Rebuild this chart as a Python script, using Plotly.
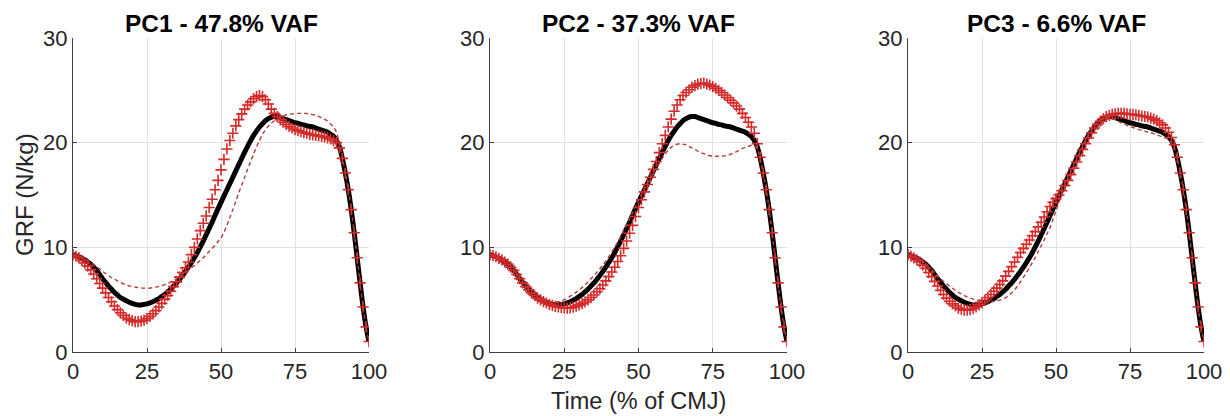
import plotly.graph_objects as go

time_pct = list(range(0, 101))

mean_grf = [9.30, 9.20, 9.10, 8.95, 8.80, 8.60, 8.40, 8.10, 7.80, 7.40,
            7.00, 6.65, 6.30, 6.00, 5.70, 5.45, 5.20, 5.05, 4.90, 4.75,
            4.65, 4.55, 4.50, 4.50, 4.55, 4.60, 4.70, 4.80, 4.95, 5.10,
            5.30, 5.50, 5.75, 6.00, 6.30, 6.60, 6.95, 7.30, 7.70, 8.10,
            8.55, 9.00, 9.50, 10.05, 10.60, 11.20, 11.80, 12.40, 13.05, 13.70,
            14.30, 14.90, 15.50, 16.10, 16.70, 17.30, 17.90, 18.50, 19.10, 19.65,
            20.20, 20.70, 21.10, 21.50, 21.80, 22.10, 22.30, 22.45, 22.50, 22.50,
            22.40, 22.30, 22.20, 22.10, 22.00, 21.90, 21.85, 21.75, 21.70, 21.60,
            21.55, 21.50, 21.40, 21.30, 21.20, 21.10, 21.00, 20.80, 20.60, 20.20,
            19.60, 18.50, 17.10, 15.50, 13.60, 11.40, 9.00, 6.60, 4.30, 2.40,
            1.00]

pc1_plus = [9.30, 9.15, 9.00, 8.75, 8.50, 8.20, 7.85, 7.45, 7.00, 6.55,
            6.10, 5.65, 5.20, 4.80, 4.40, 4.05, 3.75, 3.50, 3.25, 3.10,
            3.00, 2.90, 2.90, 2.95, 3.05, 3.20, 3.40, 3.65, 3.95, 4.30,
            4.65, 5.05, 5.40, 5.80, 6.25, 6.70, 7.15, 7.60, 8.05, 8.60,
            9.30, 10.00, 10.80, 11.60, 12.30, 13.00, 13.80, 14.60, 15.50, 16.40,
            17.40, 18.40, 19.40, 20.20, 20.90, 21.60, 22.20, 22.75, 23.20, 23.60,
            23.90, 24.20, 24.40, 24.50, 24.40, 24.10, 23.70, 23.20, 22.80, 22.50,
            22.20, 21.95, 21.75, 21.55, 21.40, 21.25, 21.15, 21.05, 20.95, 20.90,
            20.80, 20.75, 20.70, 20.65, 20.60, 20.55, 20.45, 20.35, 20.20, 20.00,
            19.50, 18.50, 17.10, 15.50, 13.60, 11.40, 9.00, 6.60, 4.30, 2.40,
            1.00]

pc1_minus = [9.30, 9.23, 9.15, 9.03, 8.90, 8.73, 8.55, 8.35, 8.15, 7.93,
             7.70, 7.50, 7.30, 7.12, 6.95, 6.80, 6.65, 6.52, 6.40, 6.32,
             6.25, 6.20, 6.15, 6.12, 6.10, 6.10, 6.10, 6.15, 6.20, 6.27,
             6.35, 6.45, 6.55, 6.70, 6.85, 7.02, 7.20, 7.40, 7.60, 7.82,
             8.05, 8.27, 8.50, 8.75, 9.00, 9.30, 9.60, 9.90, 10.20, 10.55,
             10.90, 11.45, 12.10, 12.85, 13.60, 14.40, 15.20, 15.95, 16.70, 17.45,
             18.20, 18.90, 19.60, 20.20, 20.80, 21.20, 21.60, 21.85, 22.10, 22.30,
             22.45, 22.55, 22.65, 22.70, 22.75, 22.78, 22.80, 22.80, 22.80, 22.78,
             22.75, 22.68, 22.60, 22.50, 22.40, 22.25, 22.05, 21.80, 21.50, 21.00,
             20.00, 18.60, 17.10, 15.50, 13.60, 11.40, 9.00, 6.60, 4.30, 2.40,
             1.00]

pc2_plus = [9.30, 9.20, 9.10, 8.95, 8.80, 8.60, 8.40, 8.10, 7.80, 7.40,
            7.00, 6.60, 6.25, 5.95, 5.65, 5.40, 5.15, 4.98, 4.82, 4.68,
            4.55, 4.45, 4.35, 4.30, 4.25, 4.22, 4.20, 4.22, 4.28, 4.38,
            4.50, 4.62, 4.78, 4.98, 5.20, 5.45, 5.75, 6.05, 6.40, 6.80,
            7.20, 7.65, 8.10, 8.65, 9.20, 9.90, 10.60, 11.35, 12.10, 12.95,
            13.80, 14.55, 15.30, 16.00, 16.70, 17.45, 18.20, 19.05, 19.90, 20.70,
            21.50, 22.25, 23.00, 23.60, 24.10, 24.50, 24.80, 25.05, 25.30, 25.45,
            25.60, 25.65, 25.70, 25.60, 25.50, 25.35, 25.20, 25.00, 24.80, 24.55,
            24.30, 24.05, 23.80, 23.50, 23.20, 22.80, 22.40, 21.95, 21.50, 20.90,
            19.90, 18.60, 17.10, 15.50, 13.60, 11.40, 9.00, 6.60, 4.30, 2.40,
            1.00]

pc2_minus = [9.30, 9.20, 9.10, 8.95, 8.80, 8.60, 8.40, 8.10, 7.80, 7.40,
             7.00, 6.70, 6.35, 6.05, 5.75, 5.50, 5.25, 5.10, 4.98, 4.85,
             4.78, 4.74, 4.75, 4.80, 4.88, 5.00, 5.15, 5.32, 5.50, 5.70,
             5.92, 6.15, 6.40, 6.70, 7.00, 7.30, 7.62, 7.95, 8.30, 8.70,
             9.10, 9.55, 10.00, 10.50, 11.00, 11.55, 12.10, 12.70, 13.30, 13.90,
             14.50, 15.05, 15.60, 16.10, 16.60, 17.10, 17.60, 18.05, 18.50, 18.90,
             19.30, 19.55, 19.75, 19.85, 19.90, 19.85, 19.80, 19.65, 19.50, 19.35,
             19.20, 19.05, 18.95, 18.85, 18.75, 18.72, 18.70, 18.70, 18.70, 18.75,
             18.80, 18.90, 19.00, 19.15, 19.30, 19.45, 19.55, 19.65, 19.75, 19.75,
             19.40, 18.45, 17.10, 15.50, 13.60, 11.40, 9.00, 6.60, 4.30, 2.40,
             1.00]

pc3_plus = [9.30, 9.15, 9.00, 8.80, 8.60, 8.30, 8.00, 7.60, 7.20, 6.75,
            6.30, 5.90, 5.50, 5.15, 4.85, 4.60, 4.40, 4.20, 4.10, 4.00,
            4.00, 4.05, 4.15, 4.30, 4.50, 4.70, 4.95, 5.20, 5.50, 5.80,
            6.10, 6.45, 6.80, 7.25, 7.70, 8.15, 8.60, 9.05, 9.50, 9.90,
            10.30, 10.70, 11.10, 11.50, 11.95, 12.40, 12.90, 13.40, 13.90, 14.30,
            14.65, 15.00, 15.40, 15.90, 16.40, 16.95, 17.55, 18.15, 18.75, 19.35,
            19.90, 20.45, 20.95, 21.40, 21.75, 22.05, 22.30, 22.50, 22.60, 22.70,
            22.75, 22.80, 22.80, 22.80, 22.75, 22.70, 22.70, 22.65, 22.60, 22.55,
            22.50, 22.45, 22.35, 22.25, 22.10, 21.90, 21.70, 21.40, 21.00, 20.50,
            19.80, 18.60, 17.10, 15.50, 13.60, 11.40, 9.00, 6.60, 4.30, 2.40,
            1.00]

pc3_minus = [9.30, 9.25, 9.15, 9.00, 8.80, 8.60, 8.35, 8.10, 7.85, 7.55,
             7.25, 7.00, 6.75, 6.55, 6.30, 6.10, 5.90, 5.70, 5.55, 5.40,
             5.25, 5.15, 5.05, 4.95, 4.85, 4.80, 4.75, 4.75, 4.80, 4.85,
             4.90, 4.95, 5.05, 5.20, 5.40, 5.65, 5.95, 6.30, 6.70, 7.15,
             7.60, 8.05, 8.55, 9.05, 9.60, 10.15, 10.70, 11.30, 11.90, 12.70,
             13.50, 14.30, 15.10, 15.80, 16.50, 17.15, 17.80, 18.45, 19.10, 19.70,
             20.30, 20.80, 21.20, 21.60, 21.90, 22.15, 22.30, 22.40, 22.40, 22.35,
             22.20, 22.05, 21.90, 21.80, 21.65, 21.55, 21.45, 21.35, 21.25, 21.15,
             21.10, 21.00, 20.95, 20.85, 20.75, 20.65, 20.55, 20.45, 20.30, 20.00,
             19.45, 18.45, 17.10, 15.50, 13.60, 11.40, 9.00, 6.60, 4.30, 2.40,
             1.00]

panel_titles = ["PC1 - 47.8% VAF", "PC2 - 37.3% VAF", "PC3 - 6.6% VAF"]
plus_series = [pc1_plus, pc2_plus, pc3_plus]
minus_series = [pc1_minus, pc2_minus, pc3_minus]
x_ticks = [0, 25, 50, 75, 100]
y_ticks = [0, 10, 20, 30]

# page body has an 8px margin: figure is drawn at (8, 8)
OFF = 8
W, H = 1230 - OFF, 416 - OFF
ML, MR, MT, MB = 73 - OFF, 26, 38 - OFF, 64
pw = W - ML - MR


def dom(a, b):
    return ((a - OFF - ML) / pw, (b - OFF - ML) / pw)


domains = [dom(73, 369), dom(490, 787), dom(908, 1204)]

RED = "#d42a2a"
DASH_RED = "#b83a3a"
TXT = "#262626"
FONT = "Liberation Sans, Arial, sans-serif"

fig = go.Figure()
for i in range(3):
    xa = "x" if i == 0 else f"x{i+1}"
    ya = "y" if i == 0 else f"y{i+1}"
    fig.add_trace(go.Scatter(x=time_pct, y=mean_grf, mode="lines", xaxis=xa, yaxis=ya,
                             line=dict(color="black", width=5, shape="spline", smoothing=0.8),
                             showlegend=False))
    fig.add_trace(go.Scatter(x=time_pct, y=plus_series[i], mode="markers", xaxis=xa, yaxis=ya,
                             marker=dict(symbol="cross-thin", size=8, line=dict(color=RED, width=1.6)),
                             showlegend=False))
    fig.add_trace(go.Scatter(x=time_pct, y=minus_series[i], mode="lines", xaxis=xa, yaxis=ya,
                             line=dict(color=DASH_RED, width=1.4, dash="4px,3px",
                                       shape="spline", smoothing=0.8),
                             showlegend=False))

axis_common = dict(showgrid=True, gridcolor="#e1e1e1", gridwidth=1, zeroline=False,
                   showline=True, linecolor="#404040", linewidth=1,
                   ticks="inside", ticklen=4, tickcolor="#404040",
                   tickfont=dict(family=FONT, size=22, color=TXT))

layout = dict(width=W, height=H, margin=dict(l=ML, r=MR, t=MT, b=MB),
              plot_bgcolor="white", paper_bgcolor="white", showlegend=False)
for i in range(3):
    xk = "xaxis" if i == 0 else f"xaxis{i+1}"
    yk = "yaxis" if i == 0 else f"yaxis{i+1}"
    ya = "y" if i == 0 else f"y{i+1}"
    xa = "x" if i == 0 else f"x{i+1}"
    layout[xk] = dict(axis_common, domain=list(domains[i]), range=[0, 100],
                      tickvals=x_ticks, anchor=ya, automargin=False)
    layout[yk] = dict(axis_common, domain=[0, 1], range=[0, 30],
                      tickvals=y_ticks, anchor=xa, automargin=False)
fig.update_layout(**layout)

for i in range(3):
    cx = (domains[i][0] + domains[i][1]) / 2
    fig.add_annotation(text=f"<b>{panel_titles[i]}</b>", xref="paper", yref="paper",
                       x=cx, y=1.0, xanchor="center", yanchor="bottom", yshift=-1,
                       showarrow=False, font=dict(family=FONT, size=24.5, color="black"))

fig.add_annotation(text="GRF (N/kg)", xref="paper", yref="paper", x=0, y=0.5,
                   xanchor="center", yanchor="middle", xshift=-49, textangle=-90,
                   showarrow=False, font=dict(family=FONT, size=24, color=TXT))
fig.add_annotation(text="Time (% of CMJ)", xref="paper", yref="paper",
                   x=(domains[1][0] + domains[1][1]) / 2, y=0, xanchor="center",
                   yanchor="bottom", yshift=-MB, showarrow=False,
                   font=dict(family=FONT, size=23.5, color=TXT))

fig.write_html("out.html")
